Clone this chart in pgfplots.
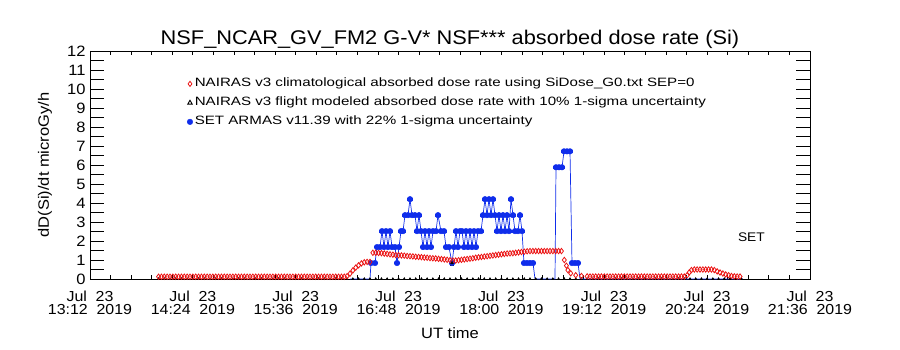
\documentclass[border=0pt]{standalone}
\usepackage{fontspec}
\setmainfont{Liberation Sans}[FakeStretch=1.1]
\newfontfamily\legfont{Liberation Sans}[FakeStretch=1.25]
\usepackage{pgfplots}
\usepackage{pgfplotstable}
\pgfplotsset{compat=1.18}
\definecolor{setblue}{RGB}{15,45,235}
\definecolor{nred}{RGB}{235,20,20}

\pgfplotstableread[row sep=\\]{
t y\\
48 0.12\\ 50 0.12\\ 52 0.12\\ 54 0.12\\ 56 0.12\\ 58 0.12\\ 60 0.12\\ 62 0.12\\ 64 0.12\\ 66 0.12\\
68 0.12\\ 70 0.12\\ 72 0.12\\ 74 0.12\\ 76 0.12\\ 78 0.12\\ 80 0.12\\ 82 0.12\\ 84 0.12\\ 86 0.12\\
88 0.12\\ 90 0.12\\ 92 0.12\\ 94 0.12\\ 96 0.12\\ 98 0.12\\ 100 0.12\\ 102 0.12\\ 104 0.12\\ 106 0.12\\
108 0.12\\ 110 0.12\\ 112 0.12\\ 114 0.12\\ 116 0.12\\ 118 0.12\\ 120 0.12\\ 122 0.12\\ 124 0.12\\ 126 0.12\\
128 0.12\\ 130 0.12\\ 132 0.12\\ 134 0.12\\ 136 0.12\\ 138 0.12\\ 140 0.12\\ 142 0.12\\ 144 0.12\\ 146 0.12\\
148 0.12\\ 150 0.12\\ 152 0.12\\ 154 0.12\\ 156 0.12\\ 158 0.12\\ 160 0.12\\ 162 0.12\\ 164 0.12\\ 166 0.12\\
168 0.12\\ 170 0.12\\ 172 0.12\\ 174 0.12\\ 176 0.12\\ 178 0.12\\
180 0.15\\ 182 0.28\\ 184 0.45\\ 186 0.6\\ 188 0.72\\ 190 0.82\\ 192 0.88\\ 194 0.9\\ 196 0.9\\
198 1.38\\ 200 1.38\\ 202 1.37\\ 204 1.36\\ 206 1.34\\ 208 1.32\\ 210 1.3\\ 212 1.28\\ 214 1.26\\ 216 1.25\\
218 1.24\\ 220 1.23\\ 222 1.21\\ 224 1.2\\ 226 1.19\\ 228 1.17\\ 230 1.16\\ 232 1.15\\ 234 1.13\\ 236 1.12\\
238 1.1\\ 240 1.09\\ 242 1.08\\ 244 1.06\\ 246 1.05\\ 248 1.03\\ 250 1.01\\ 252 0.99\\ 254 0.97\\ 256 0.97\\
258 0.99\\ 260 1.01\\ 262 1.03\\ 264 1.05\\ 266 1.07\\ 268 1.09\\ 270 1.12\\ 272 1.14\\ 274 1.16\\ 276 1.18\\
278 1.2\\ 280 1.22\\ 282 1.24\\ 284 1.26\\ 286 1.28\\ 288 1.3\\ 290 1.32\\ 292 1.34\\ 294 1.35\\ 296 1.36\\
298 1.38\\ 300 1.4\\ 302 1.42\\ 304 1.44\\ 306 1.46\\ 308 1.47\\ 310 1.47\\ 312 1.47\\ 314 1.47\\ 316 1.47\\
318 1.47\\ 320 1.47\\ 322 1.47\\ 324 1.47\\ 326 1.47\\ 328 1.47\\ 330 1.47\\
332 1.0\\ 333.5 0.7\\ 334.5 0.47\\ 336.5 0.3\\ 340 0.2\\ 344 0.16\\ 348 0.14\\
350 0.13\\ 352 0.13\\ 354 0.13\\ 356 0.13\\ 358 0.13\\ 360 0.13\\ 362 0.13\\ 364 0.13\\ 366 0.13\\ 368 0.13\\
370 0.13\\ 372 0.13\\ 374 0.13\\ 376 0.13\\ 378 0.13\\ 380 0.13\\ 382 0.13\\ 384 0.13\\ 386 0.13\\ 388 0.13\\
390 0.13\\ 392 0.13\\ 394 0.13\\ 396 0.13\\ 398 0.13\\ 400 0.13\\ 402 0.13\\ 404 0.13\\ 406 0.13\\ 408 0.13\\
410 0.13\\ 412 0.13\\ 414 0.13\\ 416 0.13\\
418 0.2\\ 419.5 0.35\\ 421 0.47\\ 423 0.5\\ 425 0.5\\ 427 0.5\\ 429 0.5\\ 431 0.5\\ 433 0.5\\ 435 0.5\\
437 0.47\\ 439 0.4\\ 441 0.34\\ 443 0.29\\ 445 0.24\\ 447 0.2\\ 449 0.16\\ 451 0.14\\ 453 0.13\\ 455 0.13\\
}\reddata

\pgfplotstableread[row sep=\\]{
t y\\
182 0\\ 185.5 0\\ 189 0\\ 192.5 0\\ 196 0\\ 196.7 0.84\\ 199.5 0.84\\ 200.9 1.68\\ 203 1.68\\ 204.4 2.52\\
205.8 1.68\\ 207.2 2.52\\ 208.6 1.68\\ 210 2.52\\ 211.4 1.68\\ 213.5 1.68\\ 214.9 0.84\\ 216.3 1.68\\ 217.7 2.52\\ 219.1 2.52\\
220.5 3.36\\ 222.6 3.36\\ 224 4.2\\ 225.4 3.36\\ 227.5 3.36\\ 228.9 2.52\\ 230.3 3.36\\ 231.7 2.52\\ 233.1 1.68\\ 234.5 2.52\\
235.9 1.68\\ 237.3 2.52\\ 238.7 1.68\\ 240.1 2.52\\ 242.2 2.52\\ 243.6 3.36\\ 245.7 2.52\\ 247.8 2.52\\ 249.2 1.68\\ 251.3 1.68\\
253.4 0.84\\ 254.8 1.68\\ 256.2 2.52\\ 257.6 1.68\\ 259 2.52\\ 260.4 2.52\\ 261.8 1.68\\ 263.2 2.52\\ 264.6 1.68\\ 266 2.52\\
267.4 1.68\\ 268.8 2.52\\ 270.2 1.68\\ 271.6 2.52\\ 273.7 2.52\\ 275.1 3.36\\ 276.5 4.2\\ 277.9 3.36\\ 279.3 4.2\\ 280.7 3.36\\
282.1 4.2\\ 283.5 3.36\\ 284.9 2.52\\ 286.3 3.36\\ 287.7 2.52\\ 289.1 3.36\\ 290.5 2.52\\ 291.9 3.36\\ 293.3 2.52\\ 294.7 4.2\\
296.1 3.36\\ 297.5 2.52\\ 299.6 2.52\\ 301 3.36\\ 302.4 2.52\\ 303.8 0.84\\ 305.9 0.84\\ 308 0.84\\ 310.1 0.84\\ 311.5 0\\
315 0\\ 318.5 0\\ 322 0\\ 325.5 0\\ 326.2 5.88\\ 328.3 5.88\\ 330.4 5.88\\ 331.8 6.72\\ 333.9 6.72\\ 336 6.72\\
337.4 0.84\\ 339.5 0.84\\ 341.6 0.84\\ 343 0\\ 350 0\\ 370 0\\ 390 0\\ 410 0\\ 430 0\\ 450 0\\ 457 0\\
}\bluedata

\begin{document}
\begin{tikzpicture}[x=1pt,y=1pt]
\path (0,0) rectangle (900,350);
\begin{axis}[
  at={(90pt,71pt)}, anchor=south west,
  scale only axis, width=720pt, height=228pt,
  xmin=0, xmax=504, ymin=0, ymax=12,
  axis line style={line width=0.9pt},
  every tick/.style={black, line width=0.8pt},
  tick align=inside, tick pos=both,
  xtick={0,72,144,216,288,360,432,504},
  xticklabels={
    {Jul\hspace{0.6em}23\\13:12\hspace{0.6em}2019},
    {Jul\hspace{0.6em}23\\14:24\hspace{0.6em}2019},
    {Jul\hspace{0.6em}23\\15:36\hspace{0.6em}2019},
    {Jul\hspace{0.6em}23\\16:48\hspace{0.6em}2019},
    {Jul\hspace{0.6em}23\\18:00\hspace{0.6em}2019},
    {Jul\hspace{0.6em}23\\19:12\hspace{0.6em}2019},
    {Jul\hspace{0.6em}23\\20:24\hspace{0.6em}2019},
    {Jul\hspace{0.6em}23\\21:36\hspace{0.6em}2019}},
  xticklabel style={align=center, font=\fontsize{14.5}{13.5}\selectfont, yshift=-8pt},
  minor x tick num=4,
  ytick={0,...,12},
  minor y tick num=1,
  major tick length=14pt, minor tick length=14pt,
  xtick style={/pgfplots/major tick length=4pt, /pgfplots/minor tick length=4pt},
  yticklabel style={font=\fontsize{15}{15}\selectfont, xshift=-1pt},
  /pgf/number format/assume math mode=true,
  title={NSF\_NCAR\_GV\_FM2 G-V* NSF*** absorbed dose rate (Si)},
  title style={at={(rel axis cs:0.5,1)}, anchor=center, yshift=6pt, font=\fontsize{19.8}{22}\selectfont},
  xlabel={UT time},
  every axis x label/.style={at={(rel axis cs:0.5,0)}, anchor=center, yshift=-54pt, font=\fontsize{15}{15}\selectfont},
  ylabel={dD(Si)/dt microGy/h},
  every axis y label/.style={at={(rel axis cs:0,0.5)}, anchor=center, xshift=-45pt, rotate=90, font=\fontsize{15}{15}\selectfont},
  legend image code/.code={\draw[#1] plot coordinates {(3pt,0pt)};},
  legend style={draw=none, fill=none, at={(rel axis cs:0.1347,0.883)}, anchor=north west,
    font=\legfont\fontsize{12.1}{13}\selectfont, inner sep=0pt, row sep=7pt, column sep=2pt,
    nodes={inner sep=0pt, text height=9pt, text depth=3pt}},
  legend cell align=left,
  clip=false,
]
\addlegendimage{only marks, mark=diamond, mark size=2.6pt, nred, mark options={line width=0.8pt}}
\addlegendentry{NAIRAS v3 climatological absorbed dose rate using SiDose\_G0.txt SEP=0}
\addlegendimage{only marks, mark=triangle, mark size=2.6pt, black, mark options={line width=0.9pt}}
\addlegendentry{NAIRAS v3 flight modeled absorbed dose rate with 10\% 1-sigma uncertainty}
\addlegendimage{only marks, mark=*, mark size=2.8pt, setblue}
\addlegendentry{SET ARMAS v11.39 with 22\% 1-sigma uncertainty}

% NAIRAS flight modeled (black) along zero
\addplot[forget plot, black, line width=0.8pt, mark=triangle*, mark size=1.1pt] coordinates {
(48,0) (52,0) (56,0) (60,0) (64,0) (68,0) (72,0) (76,0) (80,0) (84,0) (88,0) (92,0) (96,0) (100,0)
(104,0) (108,0) (112,0) (116,0) (120,0) (124,0) (128,0) (132,0) (136,0) (140,0) (144,0) (148,0)
(152,0) (156,0) (160,0) (164,0) (168,0) (172,0) (176,0) (180,0) (184,0) (188,0) (192,0) (196,0)
(200,0) (204,0) (208,0) (212,0) (216,0) (220,0) (224,0) (228,0) (232,0) (236,0) (240,0) (244,0)
(248,0) (252,0) (256,0) (260,0) (264,0) (268,0) (272,0) (276,0) (280,0) (284,0) (288,0) (292,0)
(296,0) (300,0) (304,0) (308,0) (312,0) (316,0) (320,0) (324,0) (328,0) (332,0) (336,0) (340,0)
(344,0) (348,0) (352,0) (356,0) (360,0) (364,0) (368,0) (372,0) (376,0) (380,0) (384,0) (388,0)
(392,0) (396,0) (400,0) (404,0) (408,0) (412,0) (416,0) (420,0) (424,0) (428,0) (432,0) (436,0)
(440,0) (444,0) (448,0) (452,0) (456,0)
};
% blue line
\addplot[forget plot, setblue, line width=0.7pt, no marks] table[x=t, y=y] {\bluedata};
% blue marks (non-zero values) with bin-width bars
\addplot[forget plot, setblue, only marks, mark=*, mark size=2.8pt,
  restrict y to domain=0.1:20,
  error bars/.cd, x dir=both, x fixed=2.4, error mark=none,
  error bar style={line width=2.8pt, setblue}] table[x=t, y=y] {\bluedata};
% red climatological
\addplot[forget plot, only marks, nred, mark=diamond, mark size=2.7pt, mark options={line width=0.8pt}] table[x=t, y=y] {\reddata};
% black modeled point with uncertainty
\addplot[forget plot, black, only marks, mark=triangle*, mark size=1.6pt,
  error bars/.cd, y dir=both, y fixed=0.12, error mark=-, error bar style={line width=0.8pt}]
  coordinates {(253.4,0.84)};
\node[font=\fontsize{12.5}{13}\selectfont] at (axis cs:463,2.2) {SET};
\end{axis}
\end{tikzpicture}
\end{document}
